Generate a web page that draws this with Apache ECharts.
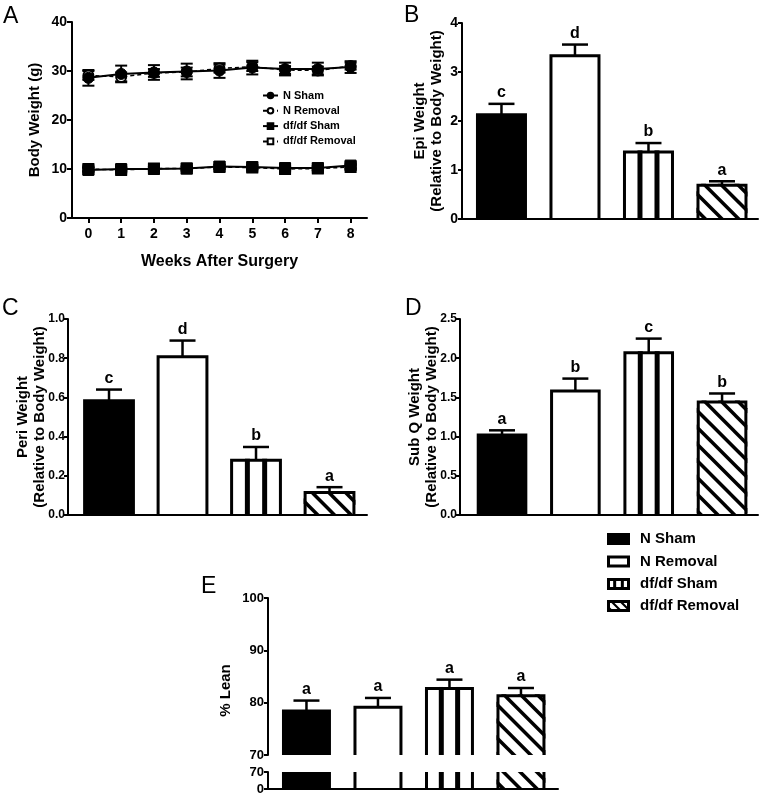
<!DOCTYPE html>
<html><head><meta charset="utf-8">
<script src="https://cdn.jsdelivr.net/npm/echarts@6/dist/echarts.min.js"></script>
<style>html,body{margin:0;padding:0;background:#fff}#c{width:762px;height:797px}</style>
</head><body><div id="c"></div>
<script>
// ---------- DATA ----------
const weeks = ['0','1','2','3','4','5','6','7','8'];
const groups = ['N Sham','N Removal','df/df Sham','df/df Removal'];

// Panel A: body weight (g), mean and SEM
const nShamBW    = [28.6, 29.4, 29.7, 29.9, 30.1, 30.7, 30.4, 30.4, 30.8];
const nShamSEM   = [1.6, 1.7, 1.5, 1.6, 1.5, 1.4, 1.3, 1.3, 1.2];
const nRemBW     = [29.1, 28.8, 29.6, 29.8, 30.5, 30.9, 30.2, 30.1, 31.0];
const nRemSEM    = [0.9, 0.9, 0.8, 0.9, 0.8, 0.9, 0.8, 0.8, 0.7];
const dfShamBW   = [9.8, 10.0, 10.0, 10.1, 10.5, 10.4, 10.2, 10.2, 10.7];
const dfShamSEM  = [0.4, 0.4, 0.4, 0.4, 0.4, 0.4, 0.4, 0.4, 0.4];
const dfRemBW    = [10.0, 9.8, 10.1, 10.1, 10.4, 10.3, 10.0, 10.1, 10.4];
const dfRemSEM   = [0.4, 0.4, 0.4, 0.4, 0.4, 0.4, 0.4, 0.4, 0.4];

// Panel B: Epi weight
const epiMean    = [2.16, 3.36, 1.40, 0.72];
const epiSEM     = [0.19, 0.20, 0.15, 0.05];
const epiLetters = ['c','d','b','a'];
// Panel C: Peri weight
const periMean    = [0.59, 0.815, 0.287, 0.122];
const periSEM     = [0.05, 0.075, 0.06, 0.02];
const periLetters = ['c','d','b','a'];
// Panel D: Sub Q weight
const subqMean    = [1.04, 1.60, 2.09, 1.46];
const subqSEM     = [0.04, 0.14, 0.16, 0.09];
const subqLetters = ['a','b','c','b'];
// Panel E: % Lean
const leanMean    = [78.7, 79.4, 83.0, 81.6];
const leanSEM     = [1.7, 1.5, 1.4, 1.2];
const leanLetters = ['a','a','a','a'];

// ---------- HELPERS ----------
const FF = '"Liberation Sans", Arial, Helvetica, sans-serif';
const PATTERNS = ['solid','open','vstripe','hatch'];

function clipX(poly, xb, keepGreater) {
  const out = [];
  for (let i = 0; i < poly.length; i++) {
    const a = poly[i], b = poly[(i + 1) % poly.length];
    const ain = keepGreater ? a[0] >= xb : a[0] <= xb;
    const bin = keepGreater ? b[0] >= xb : b[0] <= xb;
    if (ain) out.push(a);
    if (ain !== bin) {
      const t = (xb - a[0]) / (b[0] - a[0]);
      out.push([xb, a[1] + t * (b[1] - a[1])]);
    }
  }
  return out;
}

function patternElements(x0, yTop, w, h, pattern, o) {
  o = o || {};
  const lw = o.lw || 3, sw = o.sw || 5, hs = o.hs || 16.7;
  const x1 = x0 + w, yB = yTop + h;
  const els = [];
  if (h <= 0) return els;
  els.push({type: 'rect', shape: {x: x0, y: yTop, width: w, height: h},
            style: {fill: pattern === 'solid' ? '#000' : '#fff'}});
  if (pattern === 'vstripe') {
    [1/3, 2/3].forEach(f => els.push({type: 'rect',
      shape: {x: x0 + w * f - sw / 2, y: yTop, width: sw, height: h}, style: {fill: '#000'}}));
  }
  if (pattern === 'hatch') {
    const off = o.hatchOffset != null ? o.hatchOffset : 7;
    const n = Math.ceil((h + sw) / hs) + 1;
    for (let c = off - n * hs; c < w + sw; c += hs) {
      let poly = [[x0 + c - sw / 2, yTop], [x0 + c + sw / 2, yTop],
                  [x0 + c + sw / 2 + h, yB], [x0 + c - sw / 2 + h, yB]];
      poly = clipX(clipX(poly, x0, true), x1, false);
      if (poly.length >= 3) els.push({type: 'polygon', shape: {points: poly}, style: {fill: '#000'}});
    }
  }
  if (pattern !== 'solid') {
    const hw = lw / 2;
    const st = {stroke: '#000', lineWidth: lw, fill: 'none'};
    if (o.fullBorder) {
      els.push({type: 'rect', shape: {x: x0 + hw, y: yTop + hw, width: w - lw, height: h - lw}, style: st});
    } else if (o.noTop) {
      els.push({type: 'line', shape: {x1: x0 + hw, y1: yTop, x2: x0 + hw, y2: yB}, style: st});
      els.push({type: 'line', shape: {x1: x1 - hw, y1: yTop, x2: x1 - hw, y2: yB}, style: st});
    } else {
      els.push({type: 'polyline', shape: {points: [[x0 + hw, yB], [x0 + hw, yTop + hw], [x1 - hw, yTop + hw], [x1 - hw, yB]]},
                style: {stroke: '#000', lineWidth: lw, fill: null, lineJoin: 'miter'}});
    }
  }
  return els;
}

function makeBarRender(letters, ratio, showErr) {
  return function (params, api) {
    const idx = params.dataIndex;
    const cat = api.value(0), val = api.value(1), err = api.value(2);
    const cs = params.coordSys;
    const bw = api.size([1, 0])[0] * ratio;
    const p = api.coord([cat, val]);
    const cx = p[0];
    const yBase = cs.y + cs.height;
    const clipped = p[1] < cs.y;
    const yTop = Math.max(p[1], cs.y);
    const children = patternElements(cx - bw / 2, yTop, bw, yBase - yTop, PATTERNS[idx], {noTop: clipped});
    if (showErr) {
      const ey = api.coord([cat, val + err])[1];
      const capW = 26;
      const st = {stroke: '#000', lineWidth: 2.5};
      children.push({type: 'line', shape: {x1: cx, y1: yTop + 2, x2: cx, y2: ey}, style: st});
      children.push({type: 'line', shape: {x1: cx - capW / 2, y1: ey, x2: cx + capW / 2, y2: ey}, style: st});
      children.push({type: 'text', x: cx, y: ey - 3,
        style: {text: letters[idx], fill: '#000', font: 'bold 16px ' + FF,
                align: 'center', verticalAlign: 'bottom', textAlign: 'center', textVerticalAlign: 'bottom'}});
    }
    return {type: 'group', children};
  };
}

function errRender(capW) {
  return function (params, api) {
    const i = api.value(0), v = api.value(1), e = api.value(2);
    const t = api.coord([i, v + e]), b = api.coord([i, v - e]);
    const x = t[0];
    const st = {stroke: '#000', lineWidth: 2};
    return {type: 'group', children: [
      {type: 'line', shape: {x1: x, y1: t[1], x2: x, y2: b[1]}, style: st},
      {type: 'line', shape: {x1: x - capW / 2, y1: t[1], x2: x + capW / 2, y2: t[1]}, style: st},
      {type: 'line', shape: {x1: x - capW / 2, y1: b[1], x2: x + capW / 2, y2: b[1]}, style: st}
    ]};
  };
}

const axisLineStyle = {color: '#000', width: 2};
function tickLabel(fs) { return {color: '#000', fontFamily: FF, fontSize: fs, fontWeight: 'bold'}; }

function valX(grid, min, max, show) {
  return {type: 'value', gridIndex: grid, min, max, z: 10,
    axisLine: {show: show, onZero: false, lineStyle: axisLineStyle},
    axisTick: {show: false}, axisLabel: {show: false}, splitLine: {show: false}};
}
function valY(grid, min, max, interval, name, nameGap, digits, nameFs, tickFs, margin) {
  return {type: 'value', gridIndex: grid, min, max, interval,
    name: name, nameLocation: 'middle', nameGap: nameGap, nameRotate: 90, nameMoveOverlap: false,
    nameTextStyle: {color: '#000', fontFamily: FF, fontSize: nameFs || 15, fontWeight: 'bold', lineHeight: 17},
    axisLine: {show: true, onZero: false, lineStyle: axisLineStyle},
    axisTick: {show: true, length: 4, lineStyle: axisLineStyle},
    axisLabel: Object.assign({margin: margin || 4, formatter: v => v.toFixed(digits)}, tickLabel(tickFs || 13)),
    splitLine: {show: false}};
}
function barData(mean, sem) { return mean.map((v, i) => [i, v, sem[i]]); }

// ---------- LEGEND (panel B–E) ----------
const legendEls = [];
const legendRows = [539, 561.5, 584, 606];
groups.forEach((g, i) => {
  const yc = legendRows[i];
  patternElements(607, yc - 6, 23, 12, PATTERNS[i], {fullBorder: true, sw: 3, hs: 9, hatchOffset: 3})
    .forEach(e => legendEls.push(e));
  legendEls.push({type: 'text', x: 640, y: yc,
    style: {text: g, fill: '#000', font: 'bold 15px ' + FF, verticalAlign: 'middle', textVerticalAlign: 'middle'}});
});

function panelLetter(t, x, y) {
  return {type: 'text', x: x, y: y, style: {text: t, fill: '#000', font: '23px ' + FF}};
}

// ---------- OPTION ----------
const gridBase = {containLabel: false, outerBoundsMode: 'none'};
const option = {
  animation: false,
  backgroundColor: '#fff',
  grid: [
    Object.assign({left: 72, top: 22, width: 295, height: 196}, gridBase),   // A
    Object.assign({left: 462, top: 23, width: 296, height: 196}, gridBase),  // B
    Object.assign({left: 68, top: 319, width: 299, height: 196}, gridBase),  // C
    Object.assign({left: 460, top: 319, width: 298, height: 196}, gridBase), // D
    Object.assign({left: 268, top: 598, width: 290, height: 157}, gridBase), // E upper
    Object.assign({left: 268, top: 772, width: 290, height: 17}, gridBase)   // E lower
  ],
  xAxis: [
    {type: 'category', gridIndex: 0, data: weeks, boundaryGap: true,
     name: 'Weeks After Surgery', nameLocation: 'middle', nameGap: 36, nameMoveOverlap: false,
     nameTextStyle: {color: '#000', fontFamily: FF, fontSize: 16, fontWeight: 'bold'},
     axisLine: {show: true, onZero: false, lineStyle: axisLineStyle},
     axisTick: {show: true, alignWithLabel: true, length: 5, lineStyle: axisLineStyle},
     axisLabel: Object.assign({margin: 9}, tickLabel(14)), splitLine: {show: false}},
    valX(1, -0.537, 3.49, true),
    valX(2, -0.558, 3.51, true),
    valX(3, -0.573, 3.49, true),
    valX(4, -0.538, 3.518, false),
    valX(5, -0.538, 3.518, true)
  ],
  yAxis: [
    Object.assign(valY(0, 0, 40, 10, 'Body Weight (g)', 29, 0, 15, 14),
      {axisTick: {show: true, length: 5, lineStyle: axisLineStyle}, axisLabel: Object.assign({margin: 5}, tickLabel(14))}),
    valY(1, 0, 4, 1, 'Epi Weight\n(Relative to Body Weight)', 17, 0, 15, 14),
    valY(2, 0, 1, 0.2, 'Peri Weight\n(Relative to Body Weight)', 20, 1, 15, 12, 3),
    valY(3, 0, 2.5, 0.5, 'Sub Q Weight\n(Relative to Body Weight)', 20, 1, 15, 12, 3),
    Object.assign(valY(4, 70, 100, 10, '% Lean', 35, 0, 15, 13),
      {nameTextStyle: {color: '#000', fontFamily: FF, fontSize: 15, fontWeight: 'bold', padding: [0, 28, 0, 0]}}),
    valY(5, 0, 70, 70, '', 0, 0, 15, 13)
  ],
  legend: [{
    data: groups, orient: 'vertical', left: 262, top: 90, padding: 0,
    itemWidth: 15, itemHeight: 7, itemGap: 4.3, selectedMode: false,
    textStyle: {color: '#000', fontFamily: FF, fontSize: 11, fontWeight: 'bold', lineHeight: 11}
  }],
  graphic: [
    panelLetter('A', 3, 5), panelLetter('B', 404, 4), panelLetter('C', 2, 297),
    panelLetter('D', 405, 297), panelLetter('E', 201, 575),
    {type: 'group', children: legendEls}
  ],
  series: [
    // Panel A error bars
    {type: 'custom', xAxisIndex: 0, yAxisIndex: 0, z: 2, renderItem: errRender(12), data: barData(nShamBW, nShamSEM)},
    {type: 'custom', xAxisIndex: 0, yAxisIndex: 0, z: 2, renderItem: errRender(12), data: barData(nRemBW, nRemSEM)},
    {type: 'custom', xAxisIndex: 0, yAxisIndex: 0, z: 2, renderItem: errRender(12), data: barData(dfShamBW, dfShamSEM)},
    {type: 'custom', xAxisIndex: 0, yAxisIndex: 0, z: 2, renderItem: errRender(12), data: barData(dfRemBW, dfRemSEM)},
    // Panel A lines
    {type: 'line', name: 'N Sham', xAxisIndex: 0, yAxisIndex: 0, data: nShamBW, z: 5,
     symbol: 'circle', symbolSize: 11, lineStyle: {color: '#000', width: 2},
     itemStyle: {color: '#000', borderColor: '#000', borderWidth: 1}},
    {type: 'line', name: 'N Removal', xAxisIndex: 0, yAxisIndex: 0, data: nRemBW, z: 4,
     symbol: 'circle', symbolSize: 10, lineStyle: {color: '#000', width: 1.5, type: [4, 3]},
     itemStyle: {color: '#fff', borderColor: '#000', borderWidth: 2}},
    {type: 'line', name: 'df/df Sham', xAxisIndex: 0, yAxisIndex: 0, data: dfShamBW, z: 5,
     symbol: 'rect', symbolSize: 11, lineStyle: {color: '#000', width: 2},
     itemStyle: {color: '#000', borderColor: '#000', borderWidth: 1}},
    {type: 'line', name: 'df/df Removal', xAxisIndex: 0, yAxisIndex: 0, data: dfRemBW, z: 4,
     symbol: 'rect', symbolSize: 10, lineStyle: {color: '#000', width: 1.5, type: [4, 3]},
     itemStyle: {color: '#fff', borderColor: '#000', borderWidth: 2}},
    // Bar panels
    {type: 'custom', xAxisIndex: 1, yAxisIndex: 1, z: 3, renderItem: makeBarRender(epiLetters, 0.694, true), data: barData(epiMean, epiSEM)},
    {type: 'custom', xAxisIndex: 2, yAxisIndex: 2, z: 3, renderItem: makeBarRender(periLetters, 0.705, true), data: barData(periMean, periSEM)},
    {type: 'custom', xAxisIndex: 3, yAxisIndex: 3, z: 3, renderItem: makeBarRender(subqLetters, 0.69, true), data: barData(subqMean, subqSEM)},
    {type: 'custom', xAxisIndex: 4, yAxisIndex: 4, z: 3, renderItem: makeBarRender(leanLetters, 0.685, true), data: barData(leanMean, leanSEM)},
    {type: 'custom', xAxisIndex: 5, yAxisIndex: 5, z: 3, renderItem: makeBarRender(leanLetters, 0.685, false), data: barData(leanMean, leanSEM)}
  ]
};

const chart = echarts.init(document.getElementById('c'), null, {renderer: 'canvas'});
chart.setOption(option);
</script>
</body></html>
